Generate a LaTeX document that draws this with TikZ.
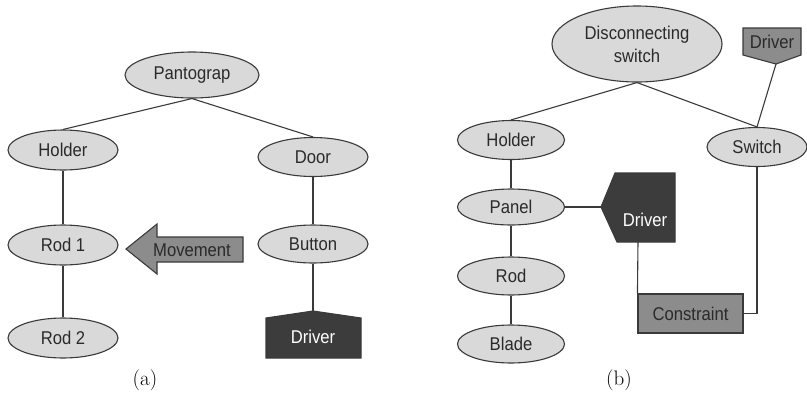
\documentclass[tikz,border=0pt]{standalone}
\usepackage{fontspec}
\newfontfamily\diagfont[FakeStretch=0.9]{Liberation Sans}
\usetikzlibrary{shapes.geometric}
\definecolor{partfill}{HTML}{D9D9D9}
\definecolor{edgecol}{HTML}{3A3A3A}
\definecolor{txtcol}{HTML}{2A2A2A}
\definecolor{darkdrv}{HTML}{3C3C3C}
\definecolor{midgray}{HTML}{8C8C8C}
\begin{document}
\begin{tikzpicture}[x=1pt,y=-1pt,
  part/.style={ellipse, draw=edgecol, fill=partfill, line width=1.1pt, inner sep=0pt,
    font=\diagfont\fontsize{18.5}{23}\selectfont, text=txtcol, align=center},
  link/.style={draw=edgecol, line width=1.1pt},
  blockdark/.style={draw=edgecol, fill=darkdrv, line width=1.1pt},
  blockmid/.style={draw=edgecol, fill=midgray, line width=1.1pt},
  lbl/.style={font=\diagfont\fontsize{18.5}{23}\selectfont, inner sep=0pt},
  subcap/.style={inner sep=0pt, text=black, font=\rmfamily\fontsize{21}{25}\selectfont}]
\useasboundingbox (0,0) rectangle (807,392);

% ---------------- (a) pantograph tree ----------------
\node[part, minimum width=134, minimum height=46] (pan) at (192,75) {Pantograp};
\node[part, minimum width=110, minimum height=40] (holA) at (63,150) {Holder};
\node[part, minimum width=110, minimum height=39] (door) at (313,157) {Door};
\node[part, minimum width=110, minimum height=40] (rod1) at (63,245) {Rod 1};
\node[part, minimum width=110, minimum height=40] (rod2) at (63,338) {Rod 2};
\node[part, minimum width=110, minimum height=38] (btn) at (313,244) {Button};

% driver block with peaked top
\coordinate (drvApeak) at (313,311);
\path[blockdark] (266,318) -- (drvApeak) -- (361,318) -- (361,358) -- (266,358) -- cycle;
\node[lbl, text=white] (drvA) at (313,337) {Driver};

% movement arrow pointing left
\path[blockmid] (126,249) -- (157,224) -- (157,237) -- (243,237) -- (243,262)
  -- (157,262) -- (157,274) -- cycle;
\node[lbl, text=txtcol] (mv) at (192,250) {Movement};

\draw[link] (pan.south) -- (holA.north);
\draw[link] (pan.south) -- (door.north);
\draw[link] (holA) -- (rod1);
\draw[link] (rod1) -- (rod2);
\draw[link] (door) -- (btn);
\draw[link] (btn.south) -- (drvApeak);

\node[subcap] (capA) at (145,380) {(a)};

% ---------------- (b) disconnecting switch tree ----------------
\node[part, minimum width=170, minimum height=76] (disc) at (637,44) {Disconnecting\\switch};
\node[part, minimum width=107, minimum height=39] (holB) at (511,140) {Holder};
\node[part, minimum width=100, minimum height=39] (sw) at (757,147) {Switch};
\node[part, minimum width=107, minimum height=36] (panel) at (511,207) {Panel};
\node[part, minimum width=107, minimum height=38] (rod) at (511,276) {Rod};
\node[part, minimum width=107, minimum height=38] (blade) at (511,344) {Blade};

% pentagon driver pointing left
\coordinate (drvBtip) at (601,207);
\coordinate (drvBbot) at (638,242);
\path[blockdark] (615,173) -- (675,173) -- (675,242) -- (617,242) -- (drvBtip) -- cycle;
\node[lbl, text=white] (drvB) at (645,220) {Driver};

% small driver tag pointing down
\coordinate (drvCtip) at (776,64);
\path[blockmid] (743,28) -- (801,28) -- (801,55) -- (drvCtip) -- (743,55) -- cycle;
\node[lbl, text=txtcol] (drvC) at (772,42) {Driver};

\node[blockmid, rectangle, minimum width=105, minimum height=39, inner sep=0pt,
  font=\diagfont\fontsize{18.5}{23}\selectfont, text=txtcol] (con) at (690.5,313.5) {Constraint};

\draw[link] (disc.south) -- (holB.north);
\draw[link] (disc.south) -- (sw.north);
\draw[link] (drvCtip) -- (sw.north);
\draw[link] (holB) -- (panel);
\draw[link] (panel) -- (rod);
\draw[link] (rod) -- (blade);
\draw[link] (panel.east) -- (drvBtip);
\draw[link] (drvBbot) -- (con.north west);
\draw[link] (con.east) -| (sw.south);

\node[subcap] (capB) at (619,380) {(b)};
\end{tikzpicture}
\end{document}
